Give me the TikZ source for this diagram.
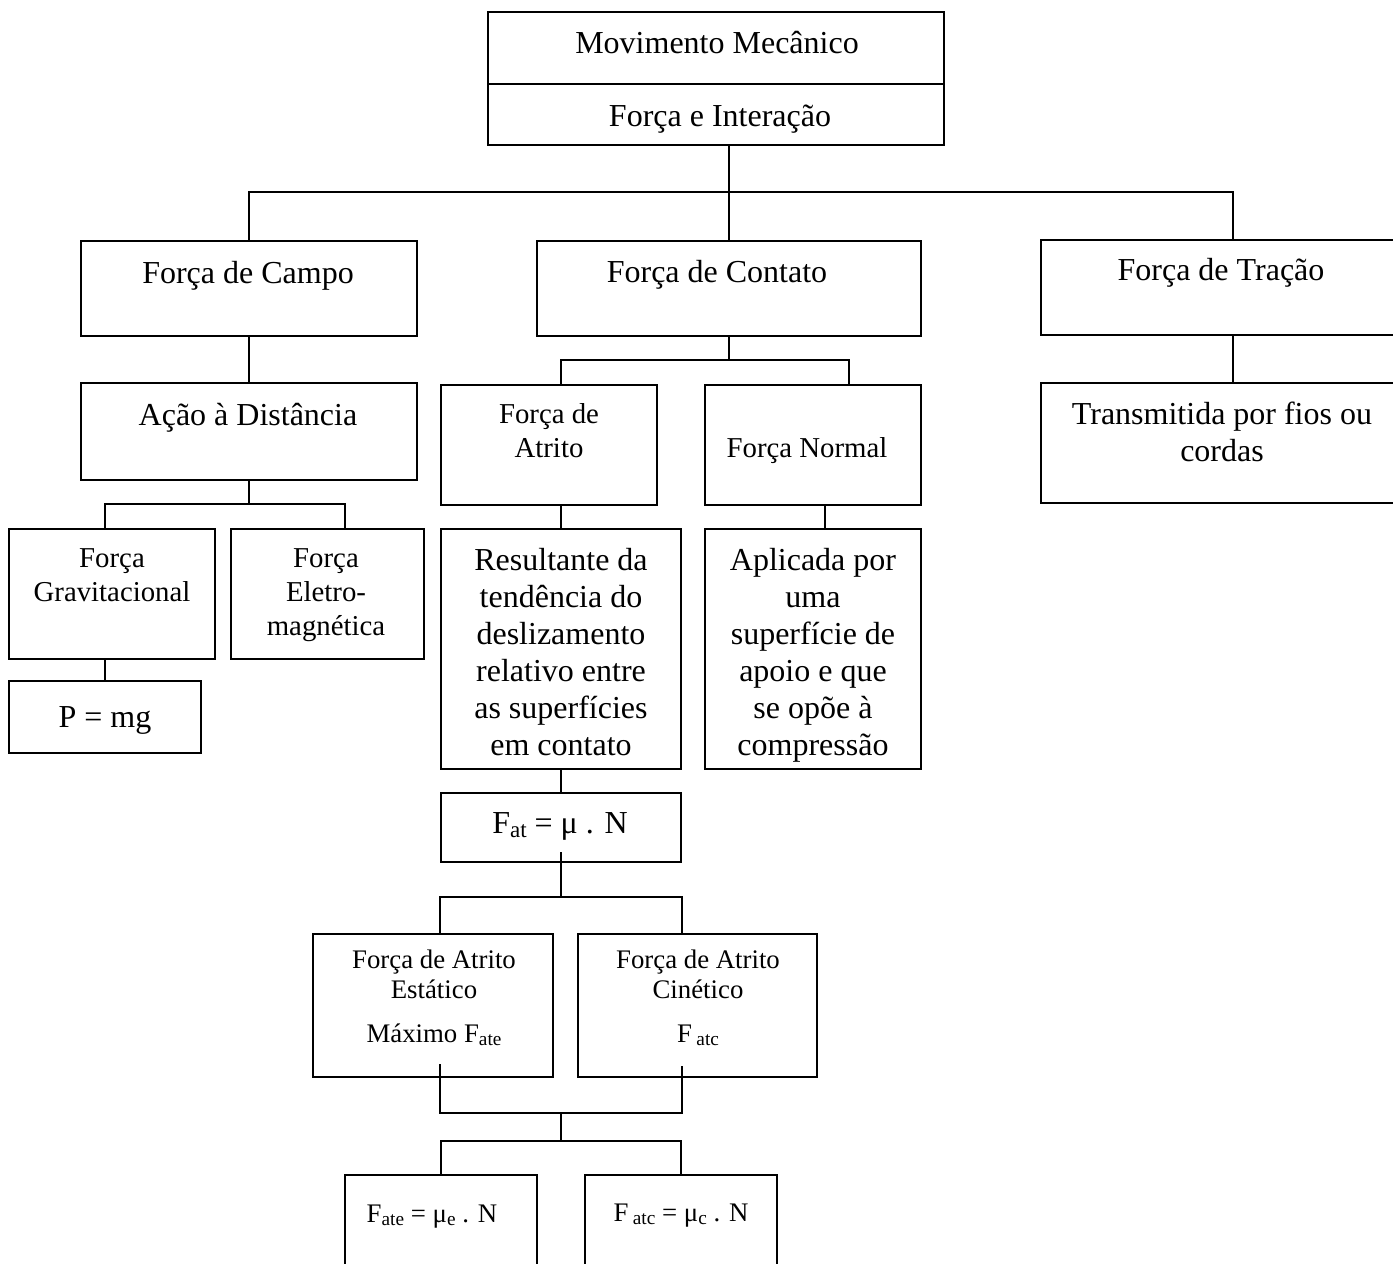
\documentclass[tikz,border=0pt]{standalone}
\usepackage{fontspec}
\setmainfont{Liberation Serif}
\usepackage{graphicx}
\usetikzlibrary{fit}

% lowered, reduced subscript in the running text font
\newcommand{\sbx}[1]{\raisebox{-0.3ex}{\scalebox{0.72}{#1}}}

\tikzset{
  box/.style={draw, line width=1pt, inner sep=0pt, fit={#1}},
  wire/.style={line width=1pt},
  % text nodes are placed by the baseline of their last line
  big/.style={font=\fontsize{16}{18.5}\selectfont, align=center, inner sep=0pt, anchor=base},
  mid/.style={font=\fontsize{14.4}{17}\selectfont, align=center, inner sep=0pt, anchor=base},
  small/.style={font=\fontsize{13.4}{15}\selectfont, align=center, inner sep=0pt, anchor=base},
}

\begin{document}
\begin{tikzpicture}[x=0.5pt, y=-0.5pt]
  \useasboundingbox (0,0) rectangle (1393,1264);
  \fill[white] (0,0) rectangle (1393,1264);
  \clip (0,0) rectangle (1393,1264);

  % boxes
  \node[box={(488,12) (944,84)}]    (top1)   {};
  \node[box={(488,84) (944,145)}]   (top2)   {};
  \node[box={(81,241) (417,336)}]   (campo)  {};
  \node[box={(537,241) (921,336)}]  (contato){};
  \node[box={(1041,240) (1425,335)}](tracao) {};
  \node[box={(81,383) (417,480)}]   (acao)   {};
  \node[box={(1041,383) (1425,503)}](transm) {};
  \node[box={(441,385) (657,505)}]  (atrito) {};
  \node[box={(705,385) (921,505)}]  (normal) {};
  \node[box={(9,529) (215,659)}]    (grav)   {};
  \node[box={(231,529) (424,659)}]  (eletro) {};
  \node[box={(9,681) (201,753)}]    (pmg)    {};
  \node[box={(441,529) (681,769)}]  (result) {};
  \node[box={(705,529) (921,769)}]  (aplic)  {};
  \node[box={(441,793) (681,862)}]  (fat)    {};
  \node[box={(313,934) (553,1077)}] (estat)  {};
  \node[box={(578,934) (817,1077)}] (cinet)  {};
  \node[box={(345,1175) (537,1300)}](fate)   {};
  \node[box={(585,1175) (777,1300)}](fatc)   {};

  % junction points
  \coordinate (bus1) at (729,192);
  \coordinate (bus2) at (729,360);
  \coordinate (bus3) at (249,504);
  \coordinate (bus4) at (561,897);
  \coordinate (bus5) at (561,1113);
  \coordinate (bus6) at (561,1141);
  \path (fat.south) ++(0,-11) coordinate (fat-tail);
  \path (estat.south -| fat.west) ++(0,-14) coordinate (estat-tail);
  \path (cinet.south -| fat.east) ++(0,-12) coordinate (cinet-tail);

  % connectors
  \draw[wire] (top2.south -| contato.north) -- (contato.north);
  \draw[wire] (campo.north) |- (bus1) -| (tracao.north);
  \draw[wire] (campo.south) -- (acao.north);
  \draw[wire] (tracao.south) -- (transm.north);
  \draw[wire] (contato.south) -- (bus2);
  \draw[wire] (atrito.north -| result.north) |- (bus2) -| ([xshift=18pt]normal.north);
  \draw[wire] (acao.south) -- (bus3);
  \draw[wire] (grav.north -| pmg.north) |- (bus3) -| ([xshift=8.75pt]eletro.north);
  \draw[wire] (grav.south -| pmg.north) -- (pmg.north);
  \draw[wire] (atrito.south -| result.north) -- (result.north);
  \draw[wire] ([xshift=6pt]normal.south) -- ([xshift=6pt]aplic.north);
  \draw[wire] (result.south) -- (fat.north);
  \draw[wire] (fat-tail) -- (bus4);
  \draw[wire] (estat.north -| fat.west) |- (bus4) -| (cinet.north -| fat.east);
  \draw[wire] (estat-tail) |- (bus5) -| (cinet-tail);
  \draw[wire] (bus5) -- (bus6);
  \draw[wire] (fate.north) |- (bus6) -| (fatc.north);

  % labels
  \node[big] (t-top1) at (717,53) {Movimento Mecânico};
  \node[big] (t-top2) at (720,126) {Força e Interação};
  \node[big] (t-campo) at (248,283) {Força de Campo};
  \node[big] (t-contato) at (717,282) {Força de Contato};
  \node[big] (t-tracao) at (1221,280) {Força de Tração};
  \node[big] (t-transm) at (1222,461) {Transmitida por fios ou\\cordas};
  \node[big] (t-acao) at (248,425) {Ação à Distância};
  \node[mid] (t-atrito) at (549,457) {Força de\\Atrito};
  \node[mid] (t-normal) at (807,457) {Força Normal};
  \node[mid] (t-grav) at (112,601) {Força\\Gravitacional};
  \node[mid] (t-eletro) at (326,635) {Força\\Eletro-\\magnética};
  \node[big] (t-pmg) at (105,727) {P = mg};
  \node[big] (t-result) at (561,755) {Resultante da\\tendência do\\deslizamento\\relativo entre\\as superfícies\\em contato};
  \node[big] (t-aplic) at (813,755) {Aplicada por\\uma\\superfície de\\apoio e que\\se opõe à\\compressão};
  \node[big] (t-fat) at (560,833) {F\sbx{at} = μ . N};
  \node[small] (t-estat) at (434,1042) {Força de Atrito\\Estático\\[7pt]Máximo F\sbx{ate}};
  \node[small] (t-cinet) at (698,1042) {Força de Atrito\\Cinético\\[7pt]F\,\sbx{atc}};
  \node[small] (t-fate) at (432,1222) {F\sbx{ate} = μ\sbx{e} . N};
  \node[small] (t-fatc) at (681,1221) {F\,\sbx{atc} = μ\sbx{c} . N};
\end{tikzpicture}
\end{document}
